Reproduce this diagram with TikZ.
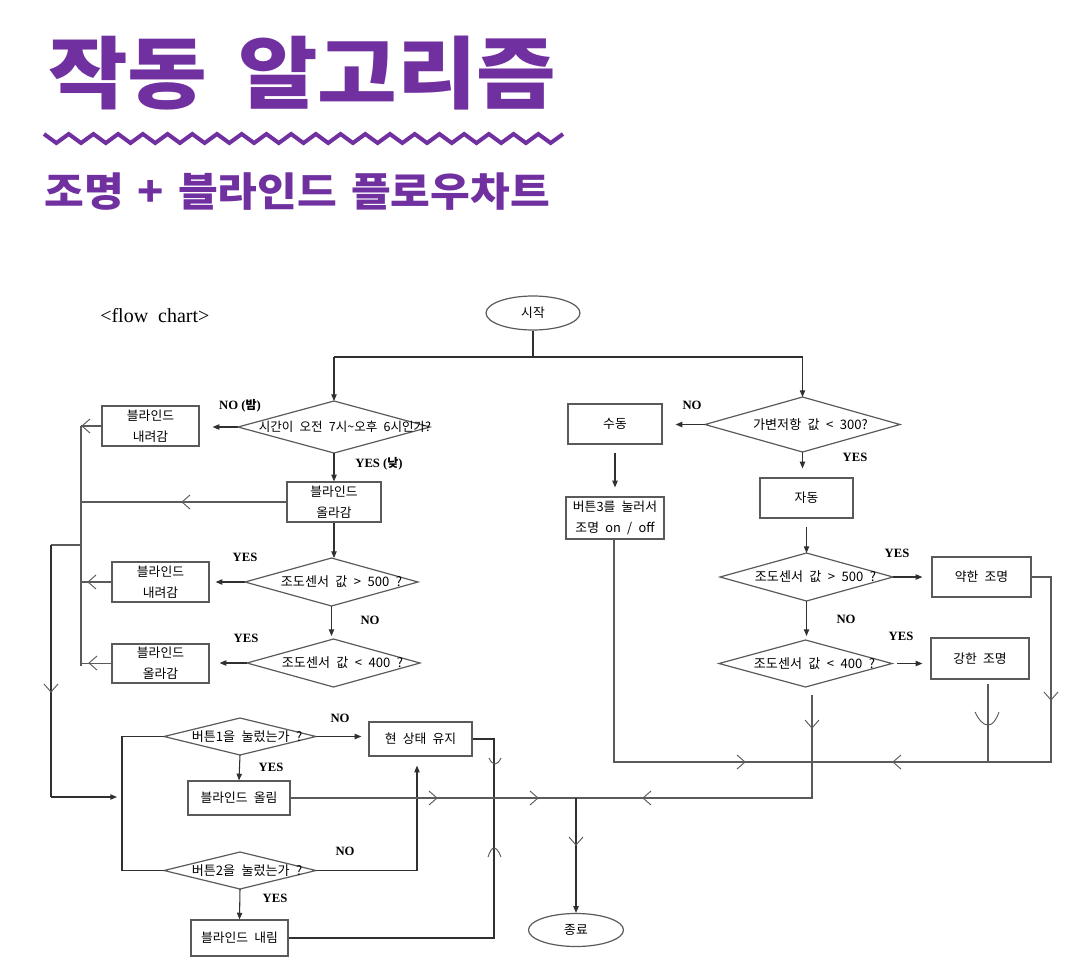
\documentclass[tikz,border=0pt]{standalone}
\usepackage{fontspec}
\setmainfont{Liberation Serif}
\newfontfamily\kr{Noto Sans CJK KR}[WordSpace=2.2]
\newfontfamily\krt{Noto Sans CJK KR}[FakeStretch=1.1]
\newfontfamily\krs{Noto Sans CJK KR}[FakeStretch=1.08]
\usetikzlibrary{shapes.geometric,arrows.meta,calc}
\definecolor{ttl}{HTML}{7030A0}
\definecolor{lncol}{HTML}{303030}
\definecolor{bxcol}{HTML}{5A5A5A}
\begin{document}
\begin{tikzpicture}[x=0.75pt,y=-0.75pt,
  bsz/.style 2 args={minimum width=#1*0.75pt,minimum height=#2*0.75pt},
  box/.style={draw=bxcol,line width=0.9pt,rectangle,inner sep=0pt,align=center,
    font=\kr\fontsize{9.6}{15.75}\selectfont},
  dia/.style={draw=bxcol,line width=0.9pt,diamond,inner sep=0pt,outer sep=0pt},
  oval/.style={draw=bxcol,line width=0.9pt,ellipse,inner sep=0pt,
    font=\kr\fontsize{9.6}{11}\selectfont},
  txt/.style={font=\kr\fontsize{9.8}{11}\selectfont,inner sep=0pt},
  lbl/.style={font=\bfseries\fontsize{9.5}{11}\selectfont,inner sep=0pt},
  wire/.style={draw=lncol,line width=0.8pt},
  ar/.style={wire,-{Triangle[length=5pt,width=4pt]}},
  gwire/.style={draw=bxcol,line width=0.8pt},
  chev/.style={draw=bxcol,line width=0.7pt},
  chv/.pic={\draw[chev] (-8,-7) -- (0,0) -- (-8,7);},
]
\useasboundingbox (0,0) rectangle (1068,965);

% ---------- title ----------
\node[anchor=base west,inner sep=0pt,text=ttl,font=\krt\bfseries\fontsize{59}{59}\selectfont]
  (title) at (48,102) {작동\hspace{0.39em}알고리즘};
\draw[ttl,line width=3pt] (44,134) \foreach \i in {1,...,21} { -- ++(12.357,9) -- ++(12.357,-9) };
\node[anchor=base west,inner sep=0pt,text=ttl,font=\krs\bfseries\fontsize{30}{30}\selectfont]
  (sub) at (44,206) {조명\hspace{0.35em}+\hspace{0.35em}블라인드\hspace{0.35em}플로우차트};

\node[anchor=west,inner sep=0pt,font=\fontsize{15}{17}\selectfont] (fc) at (100,316) {<flow\hspace{0.25em} chart>};

% ---------- nodes ----------
\node[oval,bsz={94}{34}] (start) at (533,313) {시작};
\node[oval,bsz={95}{33}] (fin) at (576,930) {종료};

\node[dia,bsz={192}{52}] (d1) at (334,427) {};
\node[txt,font=\kr\fontsize{9.4}{11}\selectfont] at ($(d1)+(11,0)$) {시간이 오전 7시\char"007E 오후 6시인가?};
\node[box,bsz={97}{40}] (a1) at (150.5,426) {블라인드\\내려감};
\node[box,bsz={94}{40}] (a2) at (334,502) {블라인드\\올라감};
\node[dia,bsz={173}{48}] (d2) at (331.5,582) {};
\node[txt] at ($(d2)+(10,0)$) {조도센서 값 > 500 ?};
\node[box,bsz={97}{40}] (a3) at (160.5,582) {블라인드\\내려감};
\node[dia,bsz={173}{48}] (d3) at (333.5,663) {};
\node[txt] at ($(d3)+(9,0)$) {조도센서 값 < 400 ?};
\node[box,bsz={97}{39}] (a4) at (160.5,663.5) {블라인드\\올라감};

\node[dia,bsz={152}{37}] (d4) at (240,736.5) {};
\node[txt] at ($(d4)+(7,0)$) {버튼1을 눌렀는가 ?};
\node[box,bsz={103}{34}] (keep) at (420.5,739) {현 상태 유지};
\node[box,bsz={102}{34}] (up) at (239,798) {블라인드 올림};
\node[dia,bsz={152}{37}] (d5) at (240,870.5) {};
\node[txt] at ($(d5)+(7,0)$) {버튼2을 눌렀는가 ?};
\node[box,bsz={97}{36}] (down) at (239.5,938) {블라인드 내림};

\node[dia,bsz={195}{55}] (r1) at (802.5,424.5) {};
\node[txt] at ($(r1)+(8,0)$) {가변저항 값 < 300?};
\node[box,bsz={94}{40}] (man) at (615,424) {수동};
\node[box,bsz={98}{42}] (btn3) at (615,518) {버튼3를 눌러서\\조명 on / off};
\node[box,bsz={93}{40}] (auto) at (806.5,498) {자동};
\node[dia,bsz={173}{48}] (r2) at (806.5,577) {};
\node[txt] at ($(r2)+(9,0)$) {조도센서 값 > 500 ?};
\node[box,bsz={99}{40}] (weak) at (981.5,577) {약한 조명};
\node[dia,bsz={173}{47}] (r3) at (805.5,663.5) {};
\node[txt] at ($(r3)+(9,0)$) {조도센서 값 < 400 ?};
\node[box,bsz={98}{41}] (strong) at (980,658.5) {강한 조명};

% ---------- labels ----------
\node[lbl] at (240,406) {NO ({\kr\fontsize{9}{11}\selectfont 밤})};
\node[lbl] at (379,464) {YES ({\kr\fontsize{9}{11}\selectfont 낮})};
\node[lbl] at (245,557) {YES};
\node[lbl] at (370,620) {NO};
\node[lbl] at (246,638) {YES};
\node[lbl] at (340,718) {NO};
\node[lbl] at (271,767) {YES};
\node[lbl] at (345,851) {NO};
\node[lbl] at (275,898) {YES};
\node[lbl] at (692,405) {NO};
\node[lbl] at (855,457) {YES};
\node[lbl] at (897,553) {YES};
\node[lbl] at (846,619) {NO};
\node[lbl] at (901,636) {YES};

% ---------- coordinates ----------
\coordinate (j0) at (533,357);
\coordinate (colT) at (81,426);
\coordinate (colB) at (81,666);
\coordinate (lk) at (51,545);
\coordinate (lkb) at (51,797);
\coordinate (bl) at (122,737);
\coordinate (kx) at (417,870);
\coordinate (rx) at (494,739);
\coordinate (r3b) at (812,695);
\coordinate (rr) at (1051,762);
\coordinate (bb) at (614,762);
\coordinate (sb) at (988,762);

% ---------- connectors: top ----------
\draw[wire] (start.south) -- (start.south |- j0);
\draw[wire] (d1.north |- j0) -- (r1.north |- j0);
\draw[ar] (d1.north |- j0) -- (d1.north);
\draw[ar] (r1.north |- j0) -- (r1.north);

% ---------- left column ----------
\draw[ar] (d1.west) -- ($(d1.west -| a1.east)+(13,0)$);
\draw[ar] (d1.south) -- (a2.north);
\draw[ar] (a2.south) -- (a2.south |- d2.north);
\draw[ar] (d2.west) -- ($(d2.west -| a3.east)+(6,0)$);
\draw[ar] (d2.south) -- ($(d2.south |- d3.north)+(0,-3)$);
\draw[ar] (d3.west) -- ($(d3.west -| a4.east)+(10,0)$);

\draw[gwire] (colT) -- (colB);
\draw[gwire] (a1.west) -- (a1.west -| colT);
\draw[gwire] (a2.west) -- (a2.west -| colT);
\draw[gwire] (a3.west) -- (a3.west -| colT);
\draw[gwire] (a4.west) -- (a4.west -| colT);
\draw[gwire] (lk) -- (lk -| colT);
\draw[wire] (lk) -- (lkb);
\draw[ar] (lkb) -- ($(lkb -| bl)+(-5,0)$);

\pic[rotate=180] at (82,426) {chv};
\pic[rotate=180] at (182,502) {chv};
\pic[rotate=180] at (88,582) {chv};
\pic[rotate=180] at (89,663) {chv};
\pic[rotate=-90] at (51,692) {chv};

% ---------- bottom-left ----------
\draw[wire] (d4.west) -- (d4.west -| bl) -- (d5.west -| bl) -- (d5.west);
\draw[ar] (d4.east) -- ($(d4.east -| keep.west)+(-7,0)$);
\draw[ar] (d4.south) -- (up.north);
\draw[ar] (d5.south) -- (down.north);
\draw[ar] (d5.east) -- (d5.east -| kx) -- ($(keep.south -| kx)+(0,9)$);
\draw[wire] (keep.east) -- (keep.east -| rx) -- (down.east -| rx) -- (down.east);
\draw[chev] (489,758) .. controls (491,762) and (493,764) .. (495,764) .. controls (497,764) and (499,762) .. (501,758);
\draw[chev] (488,857) .. controls (490,851) and (492,848) .. (494,848) .. controls (496,848) and (499,851) .. (501,857);

% ---------- merge to end ----------
\draw[gwire] (up.east) -- (up.east -| r3b) -- (r3b);
\draw[ar] (fin.north |- up.east) -- (fin.north);
\pic at (437,798) {chv};
\pic at (538,798) {chv};
\pic[rotate=180] at (643,798) {chv};
\pic[rotate=-90] at (812,728) {chv};
\pic[rotate=-90] at (576,845) {chv};

% ---------- right column ----------
\draw[ar] (r1.west) -- ($(r1.west -| man.east)+(13,0)$);
\draw[ar] ($(man.south)+(0,8)$) -- ($(btn3.north)+(0,-9)$);
\draw[ar] (r1.south) -- ($(r1.south |- auto.north)+(0,-9)$);
\draw[ar] ($(auto.south)+(0,8)$) -- (auto.south |- r2.north);
\draw[ar] (r2.east) -- ($(r2.east -| weak.west)+(-9,0)$);
\draw[ar] (r2.south) -- ($(r2.south |- r3.north)+(0,-4)$);
\draw[ar] ($(r3.east)+(5,0)$) -- ($(r3.east -| strong.west)+(-8,0)$);

\draw[gwire] (weak.east) -- (weak.east -| rr) -- (rr) -- (bb) -- (bb |- btn3.south);
\draw[gwire] ($(sb |- strong.south)+(0,4)$) -- (sb);
\pic at (745,762) {chv};
\pic[rotate=180] at (893,762) {chv};
\pic[rotate=-90] at (1051,700) {chv};
\draw[chev] (975,712) .. controls (979,720) and (983,725) .. (988,725) .. controls (993,725) and (996,720) .. (999,712);
\end{tikzpicture}
\end{document}
